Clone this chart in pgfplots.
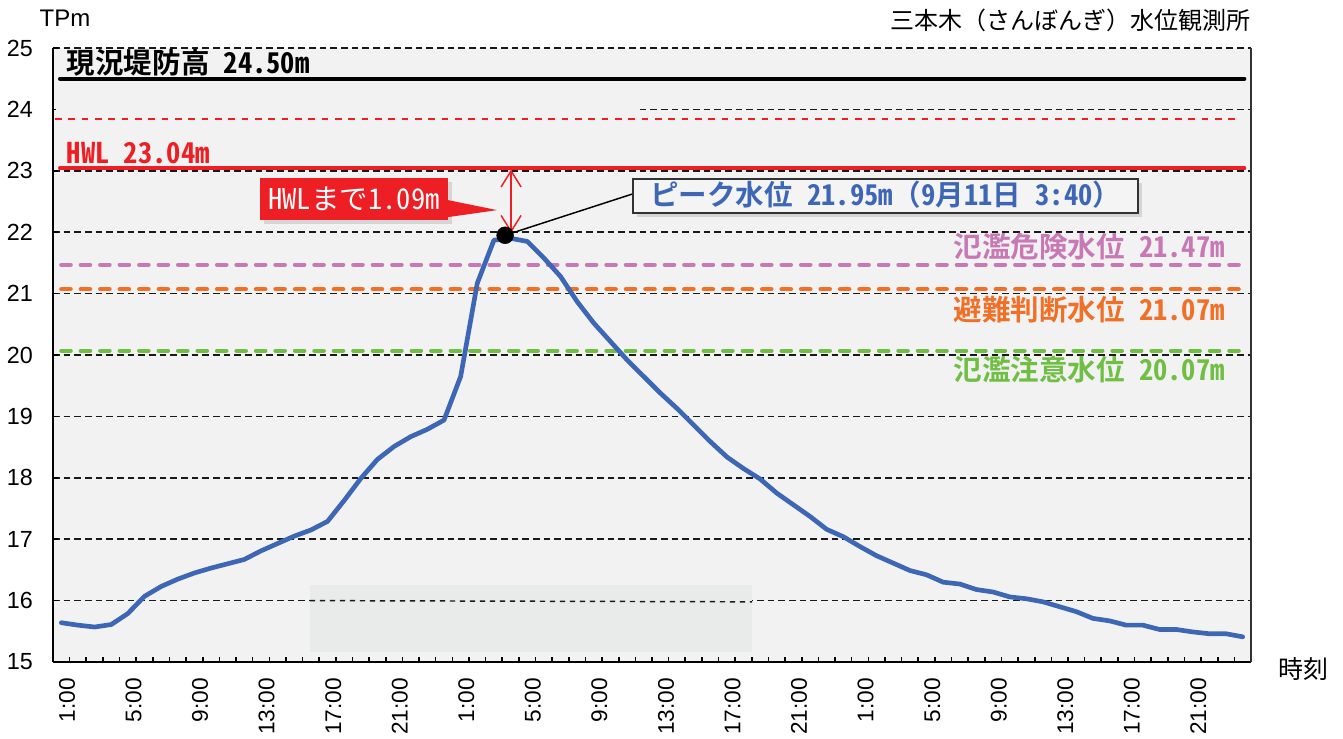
\documentclass[border=0pt]{standalone}
\usepackage{pgfplots}
\pgfplotsset{compat=1.18}
\usepackage{fontspec}
\setmainfont{Liberation Sans}
\newfontfamily\jp{Noto Sans CJK JP}[BoldFont={Noto Sans CJK JP Bold}]
\newfontfamily\jph{Noto Sans CJK JP}[BoldFont={Noto Sans CJK JP Bold},CharacterWidth=Half]
\usetikzlibrary{arrows.meta,shadows}

\definecolor{lineblue}{RGB}{61,103,181}
\definecolor{hwlred}{RGB}{237,30,36}
\definecolor{kikenpink}{RGB}{200,120,180}
\definecolor{hinanorange}{RGB}{240,112,40}
\definecolor{chuigreen}{RGB}{112,190,68}
\definecolor{bggray}{RGB}{242,242,242}
\definecolor{innergray}{RGB}{233,235,234}
\definecolor{boxfill}{RGB}{244,244,244}
\definecolor{boxline}{RGB}{50,50,50}

\newcommand\J[1]{{\jp\bfseries #1}}
\newcommand\hw[1]{{\jph\bfseries #1}}
\newcommand\labfont{\fontsize{21.4pt}{25pt}\selectfont}

\begin{document}
\begin{tikzpicture}
\begin{axis}[
  scale only axis, width=898.5pt, height=460.5pt,
  xmin=-0.5, xmax=71.5, ymin=15, ymax=25,
  clip=false,
  axis background/.style={fill=bggray},
  axis x line*=bottom, axis y line*=left,
  axis line style={black, line width=2.2pt},
  tick align=inside,
  major tick length=4pt,
  tick style={black, line width=1.2pt},
  xtick={0.5,1.5,...,70.5},
  xticklabels={1:00,,,,5:00,,,,9:00,,,,13:00,,,,17:00,,,,21:00,,,,1:00,,,,5:00,,,,9:00,,,,13:00,,,,17:00,,,,21:00,,,,1:00,,,,5:00,,,,9:00,,,,13:00,,,,17:00,,,,21:00,,},
  ytick={15,16,...,25},
  ymajorgrids,
  major grid style={black!90, line width=1.25pt, dash pattern=on 5pt off 3pt},
  /pgf/number format/assume math mode=true,
  yticklabel style={font=\fontsize{17.5pt}{20pt}\selectfont, anchor=east, inner sep=0pt, xshift=-15pt},
  xticklabel style={font=\fontsize{17pt}{20pt}\selectfont, xshift=-2pt, yshift=-12pt, rotate=90, anchor=east, inner sep=0pt},
]
% the 24 m grid line is missing on the left part of the plot
\addplot[bggray, line width=2.5pt, forget plot] coordinates {(-0.3,24) (34.78,24)};
% lighter patch near the bottom, with the 16 m grid line redrawn over it
\addplot[fill=innergray, draw=none, forget plot]
  coordinates {(14.94,15.16) (41.51,15.16) (41.51,16.25) (14.94,16.25)};
\draw[black!90, line width=1.1pt, dash pattern=on 4pt off 3.5pt] (axis cs:14.94,16) -- (axis cs:41.51,15.98);

% reference levels
\addplot[black, line width=3pt, line cap=round] coordinates {(-0.08,24.5) (71.1,24.5)};
\addplot[hwlred, line width=1.1pt, dash pattern=on 5pt off 5pt] coordinates {(-0.38,23.84) (70.9,23.84)};
\addplot[hwlred, line width=3pt, line cap=round] coordinates {(-0.08,23.04) (71.1,23.04)};
\addplot[kikenpink, line width=3.2pt, line cap=round, dash pattern=on 7pt off 7.6pt] coordinates {(0,21.47) (71.1,21.47)};
\addplot[hinanorange, line width=3.2pt, line cap=round, dash pattern=on 7pt off 7.6pt] coordinates {(0,21.07) (71.1,21.07)};
\addplot[chuigreen, line width=3.2pt, line cap=round, dash pattern=on 7pt off 7.6pt] coordinates {(0,20.07) (71.1,20.07)};

% hourly water level
\addplot[lineblue, line width=3.5pt, line join=round, line cap=round] coordinates {
(0,15.64) (1,15.60) (2,15.57) (3,15.61) (4,15.79) (5,16.07) (6,16.23) (7,16.35)
(8,16.45) (9,16.53) (10,16.60) (11,16.67) (12,16.81) (13,16.93) (14,17.05) (15,17.15)
(16,17.29) (17,17.63) (18,17.99) (19,18.30) (20,18.51) (21,18.67) (22,18.79) (23,18.94)
(24,19.65) (25,21.17) (26,21.87) (27,21.90) (28,21.85) (29,21.58) (30,21.28) (31,20.87)
(32,20.52) (33,20.22) (34,19.92) (35,19.65) (36,19.38) (37,19.13) (38,18.86) (39,18.59)
(40,18.34) (41,18.15) (42,17.98) (43,17.75) (44,17.56) (45,17.37) (46,17.16) (47,17.04)
(48,16.88) (49,16.73) (50,16.61) (51,16.49) (52,16.42) (53,16.30) (54,16.27) (55,16.18)
(56,16.14) (57,16.06) (58,16.03) (59,15.98) (60,15.90) (61,15.82) (62,15.71) (63,15.67)
(64,15.60) (65,15.60) (66,15.53) (67,15.53) (68,15.49) (69,15.46) (70,15.46) (71,15.41)
};

% right frame line
\draw[boxline, line width=1.5pt] (rel axis cs:1,0) -- (rel axis cs:1,1);

% HWL distance arrow and callout
\draw[hwlred, line width=1.1pt, {Straight Barb[length=12pt,width=15pt]}-{Straight Barb[length=12pt,width=15pt]}]
  (axis cs:27.03,23.02) -- (axis cs:27.03,21.99);
\node[fill=hwlred, minimum width=141pt, minimum height=31.5pt, inner sep=0pt,
  drop shadow={shadow xshift=3pt, shadow yshift=-3pt, opacity=0.25}] at (axis cs:17.59,22.54) {};
\fill[hwlred] (axis cs:23.1,22.53) -- (axis cs:26.19,22.36) -- (axis cs:23.1,22.24) -- cycle;
\node[text=white, inner sep=0pt, font=\labfont\jp] at (axis cs:17.59,22.54)
  {{\jph HWL}まで{\jph 1.09m}};

% peak callout
\draw[black, line width=1.1pt] (axis cs:34.30,22.62) -- (axis cs:26.67,21.95);
\node[draw=boxline, line width=1.5pt, fill=boxfill, anchor=north west, inner sep=0pt,
  minimum width=378.75pt, minimum height=25.8pt,
  drop shadow={shadow xshift=3pt, shadow yshift=-3pt, opacity=0.25}] at (axis cs:34.30,22.89) {};
\addplot[only marks, mark=*, mark size=6.3pt, black] coordinates {(26.67,21.95)};
\node[anchor=west, inner sep=0pt, text=lineblue, font=\labfont] at (axis cs:35.38,22.61)
  {\J{ピーク水位}\hspace{0.5em}\hw{21.95m}\J{（}\hw{9}\J{月}\hw{11}\J{日}\hspace{0.5em}\hw{3:40}\J{）}};

% level labels
\node[anchor=west, inner sep=0pt, font=\labfont] at (axis cs:0.32,24.76)
  {\J{現況堤防高}\hspace{0.5em}\hw{24.50m}};
\node[anchor=west, inner sep=0pt, text=hwlred, font=\labfont] at (axis cs:0.32,23.29)
  {\hw{HWL 23.04m}};
\node[anchor=east, inner sep=0pt, text=kikenpink, font=\labfont] at (axis cs:69.94,21.76)
  {\J{氾濫危険水位}\hspace{0.5em}\hw{21.47m}};
\node[anchor=east, inner sep=0pt, text=hinanorange, font=\labfont] at (axis cs:69.94,20.73)
  {\J{避難判断水位}\hspace{0.5em}\hw{21.07m}};
\node[anchor=east, inner sep=0pt, text=chuigreen, font=\labfont] at (axis cs:69.94,19.76)
  {\J{氾濫注意水位}\hspace{0.5em}\hw{20.07m}};

% titles
\node[inner sep=0pt, font=\fontsize{18pt}{20pt}\selectfont] at (axis cs:0.22,25.49) {TPm};
\node[anchor=east, inner sep=0pt, font=\fontsize{18pt}{20pt}\selectfont\jp] at (axis cs:71.5,25.456)
  {三本木（さんぼんぎ）水位観測所};
\node[inner sep=0pt, font=\fontsize{18.75pt}{20pt}\selectfont\jp] at (axis cs:74.64,14.886) {時刻};

\coordinate (bl) at (rel axis cs:0,0);
\coordinate (tr) at (rel axis cs:1,1);
\end{axis}
\pgfresetboundingbox
\useasboundingbox ([shift={(-39.75pt,-57pt)}]bl) rectangle ([shift={(69pt,36pt)}]tr);
\end{tikzpicture}
\end{document}
